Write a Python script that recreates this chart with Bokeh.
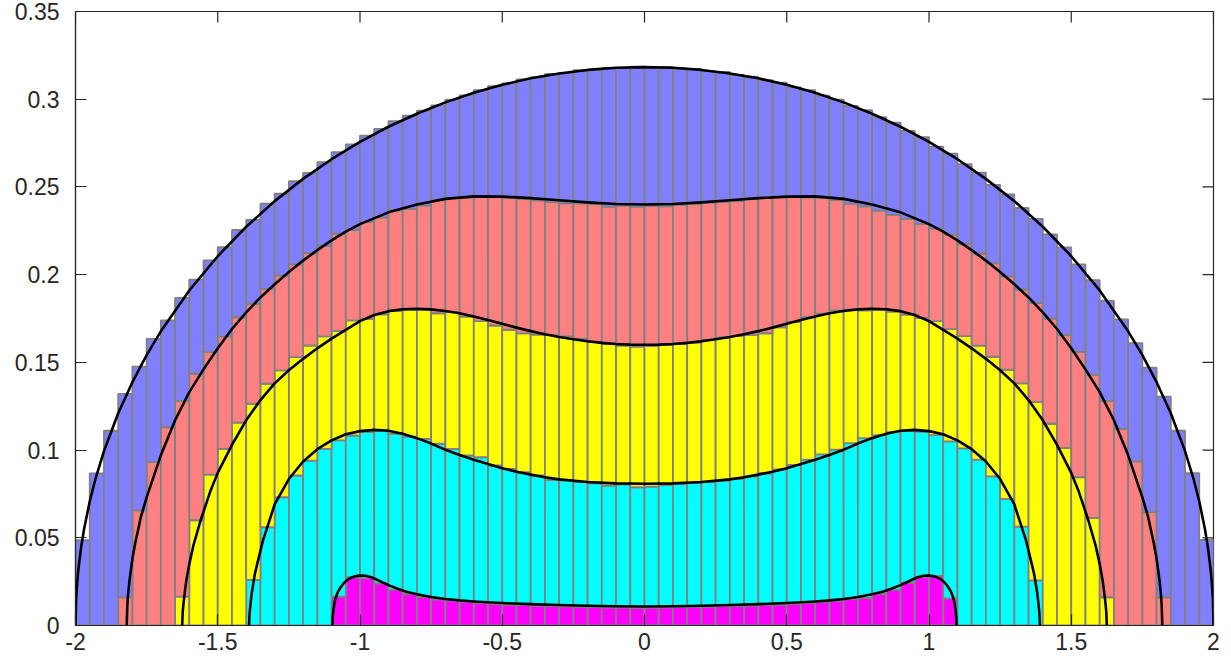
import numpy as np
from bokeh.plotting import figure
from bokeh.models import Range1d, FixedTicker
from bokeh.embed import file_html
from bokeh.resources import INLINE

# ---------------- data ----------------
bin_edges = np.linspace(-2.0, 2.0, 81)

# cumulative bar tops (stacked histogram), 80 bins of width 0.05
top_magenta = [0, 0, 0, 0, 0, 0, 0, 0, 0, 0,
               0, 0, 0, 0, 0, 0, 0, 0, 0.0165, 0.0275,
               0.0270, 0.0240, 0.0205, 0.0180, 0.0163, 0.0149, 0.0143, 0.0136, 0.0127, 0.0123,
               0.0118, 0.0116, 0.0113, 0.0111, 0.0109, 0.0107, 0.0106, 0.0104, 0.0103, 0.0101,
               0.0102, 0.0103, 0.0105, 0.0106, 0.0108, 0.0110, 0.0112, 0.0114, 0.0117, 0.0119,
               0.0122, 0.0128, 0.0134, 0.0141, 0.0150, 0.0158, 0.0180, 0.0203, 0.0245, 0.0276,
               0.0283, 0.0155, 0, 0, 0, 0, 0, 0, 0, 0,
               0, 0, 0, 0, 0, 0, 0, 0, 0, 0]
top_cyan = [0, 0, 0, 0, 0, 0, 0, 0, 0, 0,
            0, 0, 0.0260, 0.0560, 0.0731, 0.0855, 0.0940, 0.1007, 0.1055, 0.1083,
            0.1102, 0.1112, 0.1093, 0.1077, 0.1064, 0.1036, 0.1007, 0.0969, 0.0959, 0.0912,
            0.0893, 0.0874, 0.0855, 0.0830, 0.0827, 0.0817, 0.0811, 0.0798, 0.0804, 0.0788,
            0.0792, 0.0801, 0.0806, 0.0812, 0.0819, 0.0826, 0.0836, 0.0850, 0.0868, 0.0890,
            0.0915, 0.0945, 0.0975, 0.1003, 0.1040, 0.1068, 0.1085, 0.1102, 0.1108, 0.1105,
            0.1085, 0.1050, 0.1010, 0.0945, 0.0850, 0.0722, 0.0564, 0.0257, 0, 0,
            0, 0, 0, 0, 0, 0, 0, 0, 0, 0]
top_yellow = [0, 0, 0, 0, 0, 0, 0, 0.0165, 0.0600, 0.0860,
              0.1007, 0.1156, 0.1264, 0.1378, 0.1454, 0.1530, 0.1596, 0.1648, 0.1680, 0.1739,
              0.1748, 0.1773, 0.1792, 0.1800, 0.1800, 0.1780, 0.1786, 0.1761, 0.1735, 0.1710,
              0.1686, 0.1665, 0.1658, 0.1655, 0.1648, 0.1634, 0.1615, 0.1606, 0.1596, 0.1590,
              0.1592, 0.1598, 0.1604, 0.1613, 0.1628, 0.1642, 0.1650, 0.1655, 0.1666, 0.1700,
              0.1729, 0.1757, 0.1777, 0.1796, 0.1800, 0.1796, 0.1800, 0.1790, 0.1772, 0.1752,
              0.1735, 0.1690, 0.1650, 0.1595, 0.1532, 0.1458, 0.1380, 0.1273, 0.1150, 0.1013,
              0.0845, 0.0614, 0.0161, 0, 0, 0, 0, 0, 0, 0]
top_red = [0, 0, 0, 0.0160, 0.0656, 0.0931, 0.1130, 0.1280, 0.1435, 0.1558,
           0.1647, 0.1757, 0.1834, 0.1919, 0.1995, 0.2058, 0.2122, 0.2162, 0.2233, 0.2255,
           0.2299, 0.2327, 0.2366, 0.2375, 0.2394, 0.2426, 0.2438, 0.2438, 0.2442, 0.2442,
           0.2438, 0.2432, 0.2423, 0.2413, 0.2407, 0.2407, 0.2404, 0.2388, 0.2394, 0.2388,
           0.2392, 0.2390, 0.2398, 0.2402, 0.2410, 0.2415, 0.2420, 0.2430, 0.2436, 0.2440,
           0.2445, 0.2440, 0.2436, 0.2425, 0.2405, 0.2390, 0.2365, 0.2340, 0.2318, 0.2290,
           0.2262, 0.2228, 0.2175, 0.2120, 0.2065, 0.1990, 0.1915, 0.1838, 0.1750, 0.1655,
           0.1560, 0.1430, 0.1280, 0.1121, 0.0935, 0.0646, 0.0161, 0, 0, 0]
top_blue = [0.0487, 0.0867, 0.1110, 0.1320, 0.1476, 0.1634, 0.1739, 0.1868, 0.1972, 0.2081,
            0.2157, 0.2255, 0.2312, 0.2404, 0.2461, 0.2533, 0.2580, 0.2641, 0.2698, 0.2742,
            0.2793, 0.2831, 0.2875, 0.2907, 0.2935, 0.2965, 0.2998, 0.3022, 0.3052, 0.3075,
            0.3090, 0.3113, 0.3125, 0.3144, 0.3150, 0.3166, 0.3168, 0.3179, 0.3177, 0.3186,
            0.3180, 0.3184, 0.3175, 0.3172, 0.3160, 0.3155, 0.3138, 0.3128, 0.3108, 0.3094,
            0.3068, 0.3052, 0.3020, 0.2998, 0.2962, 0.2938, 0.2898, 0.2866, 0.2820, 0.2784,
            0.2730, 0.2690, 0.2630, 0.2582, 0.2512, 0.2458, 0.2380, 0.2318, 0.2230, 0.2155,
            0.2058, 0.1968, 0.1850, 0.1745, 0.1610, 0.1470, 0.1305, 0.1110, 0.0868, 0.0488]

# cumulative density curves (left half incl. 0; the curves are symmetric)
blue_x = [-2.0, -1.998, -1.995, -1.99, -1.98, -1.97, -1.95, -1.93, -1.9, -1.85, -1.8, -1.75,
          -1.7, -1.6, -1.5, -1.4, -1.3, -1.2, -1.1, -1.0, -0.9, -0.8, -0.7, -0.6, -0.5,
          -0.4, -0.3, -0.2, -0.1, 0.0]
blue_y = [0.0, 0.0142, 0.0225, 0.0318, 0.0449, 0.0549, 0.0707, 0.0835, 0.0994, 0.1210, 0.1387, 0.1541,
          0.1677, 0.1910, 0.2105, 0.2273, 0.2419, 0.2546, 0.2658, 0.2757, 0.2843, 0.2917, 0.2982, 0.3037, 0.3082,
          0.3119, 0.3147, 0.3167, 0.3179, 0.3183]
red_x = [-1.82, -1.818, -1.815, -1.81, -1.8, -1.79, -1.77, -1.75, -1.7, -1.65, -1.6, -1.55,
         -1.5, -1.45, -1.4, -1.35, -1.3, -1.25, -1.2, -1.15, -1.1, -1.05, -1.0, -0.9, -0.8,
         -0.7, -0.6, -0.5, -0.4, -0.3, -0.2, -0.1, 0.0]
red_y = [0.0, 0.0110, 0.0180, 0.0260, 0.0380, 0.0470, 0.0620, 0.0730, 0.0970, 0.1170, 0.1330, 0.1460,
         0.1580, 0.1690, 0.1785, 0.1870, 0.1945, 0.2015, 0.2080, 0.2140, 0.2195, 0.2245, 0.2288, 0.2355, 0.2400,
         0.2432, 0.2446, 0.2445, 0.2436, 0.2424, 0.2412, 0.2403, 0.2400]
yellow_x = [-1.625, -1.623, -1.62, -1.615, -1.61, -1.6, -1.585, -1.56, -1.525, -1.5, -1.45, -1.4,
            -1.35, -1.3, -1.25, -1.2, -1.15, -1.1, -1.05, -1.0, -0.95, -0.9, -0.85, -0.8, -0.75,
            -0.7, -0.65, -0.6, -0.55, -0.5, -0.45, -0.4, -0.35, -0.3, -0.25, -0.2, -0.15, -0.1, -0.05, 0.0]
yellow_y = [0.0, 0.0080, 0.0130, 0.0200, 0.0260, 0.0350, 0.0460, 0.0600, 0.0770, 0.0870, 0.1030, 0.1170,
            0.1285, 0.1380, 0.1455, 0.1520, 0.1580, 0.1635, 0.1685, 0.1735, 0.1770, 0.1792, 0.1803, 0.1806, 0.1802,
            0.1793, 0.1780, 0.1762, 0.1742, 0.1720, 0.1698, 0.1678, 0.1660, 0.1645, 0.1632, 0.1620, 0.1611, 0.1605, 0.1601, 0.1600]
cyan_x = [-1.39, -1.388, -1.385, -1.38, -1.37, -1.36, -1.34, -1.3, -1.25, -1.2, -1.15, -1.1,
          -1.05, -1.0, -0.95, -0.9, -0.85, -0.8, -0.75, -0.7, -0.65, -0.6, -0.55, -0.5, -0.45,
          -0.4, -0.35, -0.3, -0.2, -0.1, 0.0]
cyan_y = [0.0, 0.0070, 0.0120, 0.0190, 0.0290, 0.0360, 0.0490, 0.0690, 0.0835, 0.0935, 0.1005, 0.1055,
          0.1090, 0.1108, 0.1115, 0.1110, 0.1093, 0.1068, 0.1037, 0.1002, 0.0972, 0.0945, 0.0920, 0.0897, 0.0877,
          0.0860, 0.0845, 0.0833, 0.0818, 0.0810, 0.0808]
magenta_x = [-1.097, -1.096, -1.094, -1.09, -1.085, -1.078, -1.068, -1.055, -1.04, -1.02, -1.0, -0.98,
             -0.96, -0.94, -0.92, -0.9, -0.87, -0.84, -0.8, -0.75, -0.7, -0.65, -0.6, -0.5, -0.4,
             -0.3, -0.2, -0.1, 0.0]
magenta_y = [0.0, 0.0040, 0.0080, 0.0125, 0.0160, 0.0190, 0.0218, 0.0245, 0.0265, 0.0280, 0.0285, 0.0284,
             0.0275, 0.0261, 0.0245, 0.0230, 0.0211, 0.0194, 0.0178, 0.0162, 0.0151, 0.0143, 0.0137, 0.0128, 0.0122,
             0.0117, 0.0113, 0.0110, 0.0108]

x_ticks = [-2, -1.5, -1, -0.5, 0, 0.5, 1, 1.5, 2]
x_tick_labels = ["-2", "-1.5", "-1", "-0.5", "0", "0.5", "1", "1.5", "2"]
y_ticks = [0, 0.05, 0.1, 0.15, 0.2, 0.25, 0.3, 0.35]
y_tick_labels = ["0", "0.05", "0.1", "0.15", "0.2", "0.25", "0.3", "0.35"]

layer_colors = ["#FF00FF", "#00FFFF", "#FFFF00", "#FF8080", "#8080FF"]

X_MIN, X_MAX, Y_MIN, Y_MAX = -2, 2, 0, 0.35
AXIS_COLOR = "#262626"
TICK_LEN = 11

# ---------------- figure ----------------
p = figure(width=1231, height=666, output_backend="svg", toolbar_location=None,
           x_range=Range1d(X_MIN, X_MAX), y_range=Range1d(Y_MIN, Y_MAX),
           min_border_left=75, min_border_right=18, min_border_top=11, min_border_bottom=41)
p.xgrid.visible = False
p.ygrid.visible = False
p.background_fill_color = "white"
p.border_fill_color = "white"
p.outline_line_color = AXIS_COLOR
p.outline_line_width = 1.2
p.outline_line_alpha = 1.0

lefts = bin_edges[:-1]
rights = bin_edges[1:]
tops = [np.array(top_magenta), np.array(top_cyan), np.array(top_yellow),
        np.array(top_red), np.array(top_blue)]
prev = np.zeros(80)
for t, c in zip(tops, layer_colors):
    p.quad(left=lefts, right=rights, bottom=prev, top=t, fill_color=c,
           line_color="#808080", line_width=1.8)
    prev = t


def full_curve(hx, hy):
    hx = np.array(hx)
    hy = np.array(hy)
    xs = np.concatenate([hx, -hx[::-1][1:]])
    ys = np.concatenate([hy, hy[::-1][1:]])
    return xs, ys


for hx, hy in [(magenta_x, magenta_y), (cyan_x, cyan_y), (yellow_x, yellow_y),
               (red_x, red_y), (blue_x, blue_y)]:
    xs, ys = full_curve(hx, hy)
    p.line(xs, ys, line_color="black", line_width=2.6, line_join="round")

# mirrored (box) ticks on the right and top edges, inward, no labels
p.ray(x=[X_MAX] * len(y_ticks), y=y_ticks, length=TICK_LEN, length_units="screen",
      angle=np.pi, line_color=AXIS_COLOR, line_width=1.2)
p.ray(x=x_ticks, y=[Y_MAX] * len(x_ticks), length=TICK_LEN, length_units="screen",
      angle=-np.pi / 2, line_color=AXIS_COLOR, line_width=1.2)

# axes
font = "Liberation Sans"
xa = p.xaxis[0]
ya = p.yaxis[0]
xa.ticker = FixedTicker(ticks=x_ticks)
ya.ticker = FixedTicker(ticks=y_ticks)
xa.major_label_overrides = {t: l for t, l in zip(x_ticks, x_tick_labels)}
ya.major_label_overrides = {t: l for t, l in zip(y_ticks, y_tick_labels)}
xa.major_label_standoff = 7
ya.major_label_standoff = 16

for ax in [xa, ya]:
    ax.major_tick_in = TICK_LEN
    ax.major_tick_out = 0
    ax.minor_tick_in = 0
    ax.minor_tick_out = 0
    ax.axis_line_color = AXIS_COLOR
    ax.axis_line_width = 1.2
    ax.major_tick_line_color = AXIS_COLOR
    ax.major_tick_line_width = 1.2
    ax.major_label_text_font = font
    ax.major_label_text_font_size = "23px"
    ax.major_label_text_color = AXIS_COLOR

open("out.html", "w").write(file_html(p, INLINE))
